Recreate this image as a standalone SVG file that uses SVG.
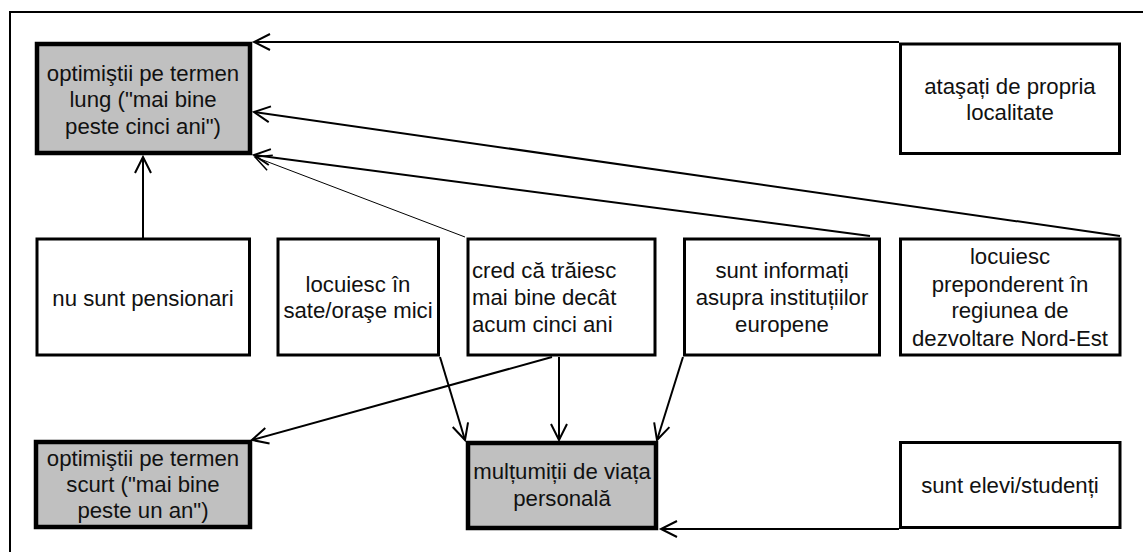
<svg xmlns="http://www.w3.org/2000/svg" width="1143" height="552" viewBox="0 0 1143 552">
<style>
.frame{fill:none;stroke:#000;stroke-width:2}
.box{fill:#fff;stroke:#000;stroke-width:3}
.key{fill:#c0c0c0;stroke:#000;stroke-width:4.5}
.t{font-family:"Liberation Sans",Arial,sans-serif;font-size:22.2px;fill:#111;text-anchor:middle}
.tl{text-anchor:start}
.c{fill:none;stroke:#000;stroke-width:2}
.cthin{fill:none;stroke:#000;stroke-width:1}
</style>
<defs>
<marker id="ah" markerUnits="userSpaceOnUse" markerWidth="24" markerHeight="24" viewBox="-20 -12 24 24" refX="0" refY="0" orient="auto">
<path d="M-16,-8 L0,0 L-16,8" fill="none" stroke="#000" stroke-width="2"/>
</marker>
<marker id="ahthin" markerUnits="userSpaceOnUse" markerWidth="24" markerHeight="24" viewBox="-20 -12 24 24" refX="0" refY="0" orient="auto">
<path d="M-16,-8 L0,0 L-16,8" fill="none" stroke="#000" stroke-width="1.5"/>
</marker>
</defs>
<rect width="1143" height="552" fill="#fff"/>
<path class="frame" d="M10,552 V12 H1143"/>
<g id="connectors">
<path class="c" d="M899,42 H254" marker-end="url(#ah)"/>
<path class="c" d="M1120,236 L254,112" marker-end="url(#ah)"/>
<path class="c" d="M870,236 L254,155" marker-end="url(#ah)"/>
<path class="cthin" d="M465,237 L255,157" marker-end="url(#ahthin)"/>
<path class="c" d="M143,238 V157" marker-end="url(#ah)"/>
<path class="c" d="M552,357 L252,440" marker-end="url(#ah)"/>
<path class="c" d="M559,357 V440" marker-end="url(#ah)"/>
<path class="c" d="M440,357 L465,440" marker-end="url(#ah)"/>
<path class="c" d="M683,357 L657,440" marker-end="url(#ah)"/>
<path class="c" d="M899,529 H661" marker-end="url(#ah)"/>
</g>
<g id="n-lung">
<rect class="key" x="37" y="44" width="213" height="109"/>
<text class="t" x="143" y="81">optimiştii pe termen</text>
<text class="t" x="143" y="107">lung ("mai bine</text>
<text class="t" x="143" y="134">peste cinci ani")</text>
</g>
<g id="n-atasati">
<rect class="box" x="900.5" y="44" width="219" height="109.5"/>
<text class="t" x="1010" y="94">ataşați de propria</text>
<text class="t" x="1010" y="120">localitate</text>
</g>
<g id="n-pensionari">
<rect class="box" x="37" y="239" width="212.5" height="116"/>
<text class="t" x="143" y="306">nu sunt pensionari</text>
</g>
<g id="n-sate">
<rect class="box" x="278" y="239" width="160.5" height="116"/>
<text class="t" x="358" y="292">locuiesc în</text>
<text class="t" x="358" y="318">sate/oraşe mici</text>
</g>
<g id="n-cred">
<rect class="box" x="468" y="239" width="187" height="116"/>
<text class="t tl" x="472" y="278">cred că trăiesc</text>
<text class="t tl" x="472" y="305">mai bine decât</text>
<text class="t tl" x="472" y="332">acum cinci ani</text>
</g>
<g id="n-informati">
<rect class="box" x="684.5" y="239" width="195" height="116"/>
<text class="t" x="782" y="278">sunt informați</text>
<text class="t" x="782" y="305">asupra instituțiilor</text>
<text class="t" x="782" y="332">europene</text>
</g>
<g id="n-nordest">
<rect class="box" x="900.5" y="239" width="219.5" height="116"/>
<text class="t" x="1010" y="264">locuiesc</text>
<text class="t" x="1010" y="292">preponderent în</text>
<text class="t" x="1010" y="318">regiunea de</text>
<text class="t" x="1010" y="346">dezvoltare Nord-Est</text>
</g>
<g id="n-scurt">
<rect class="key" x="36" y="442" width="214" height="85"/>
<text class="t" x="143" y="466">optimiştii pe termen</text>
<text class="t" x="143" y="492">scurt ("mai bine</text>
<text class="t" x="143" y="518">peste un an")</text>
</g>
<g id="n-multumiti">
<rect class="key" x="468" y="443" width="188" height="85"/>
<text class="t" x="562" y="479">mulțumiții de viața</text>
<text class="t" x="562" y="506">personală</text>
</g>
<g id="n-elevi">
<rect class="box" x="900.5" y="442.5" width="219.5" height="85"/>
<text class="t" x="1010" y="493">sunt elevi/studenți</text>
</g>
</svg>
